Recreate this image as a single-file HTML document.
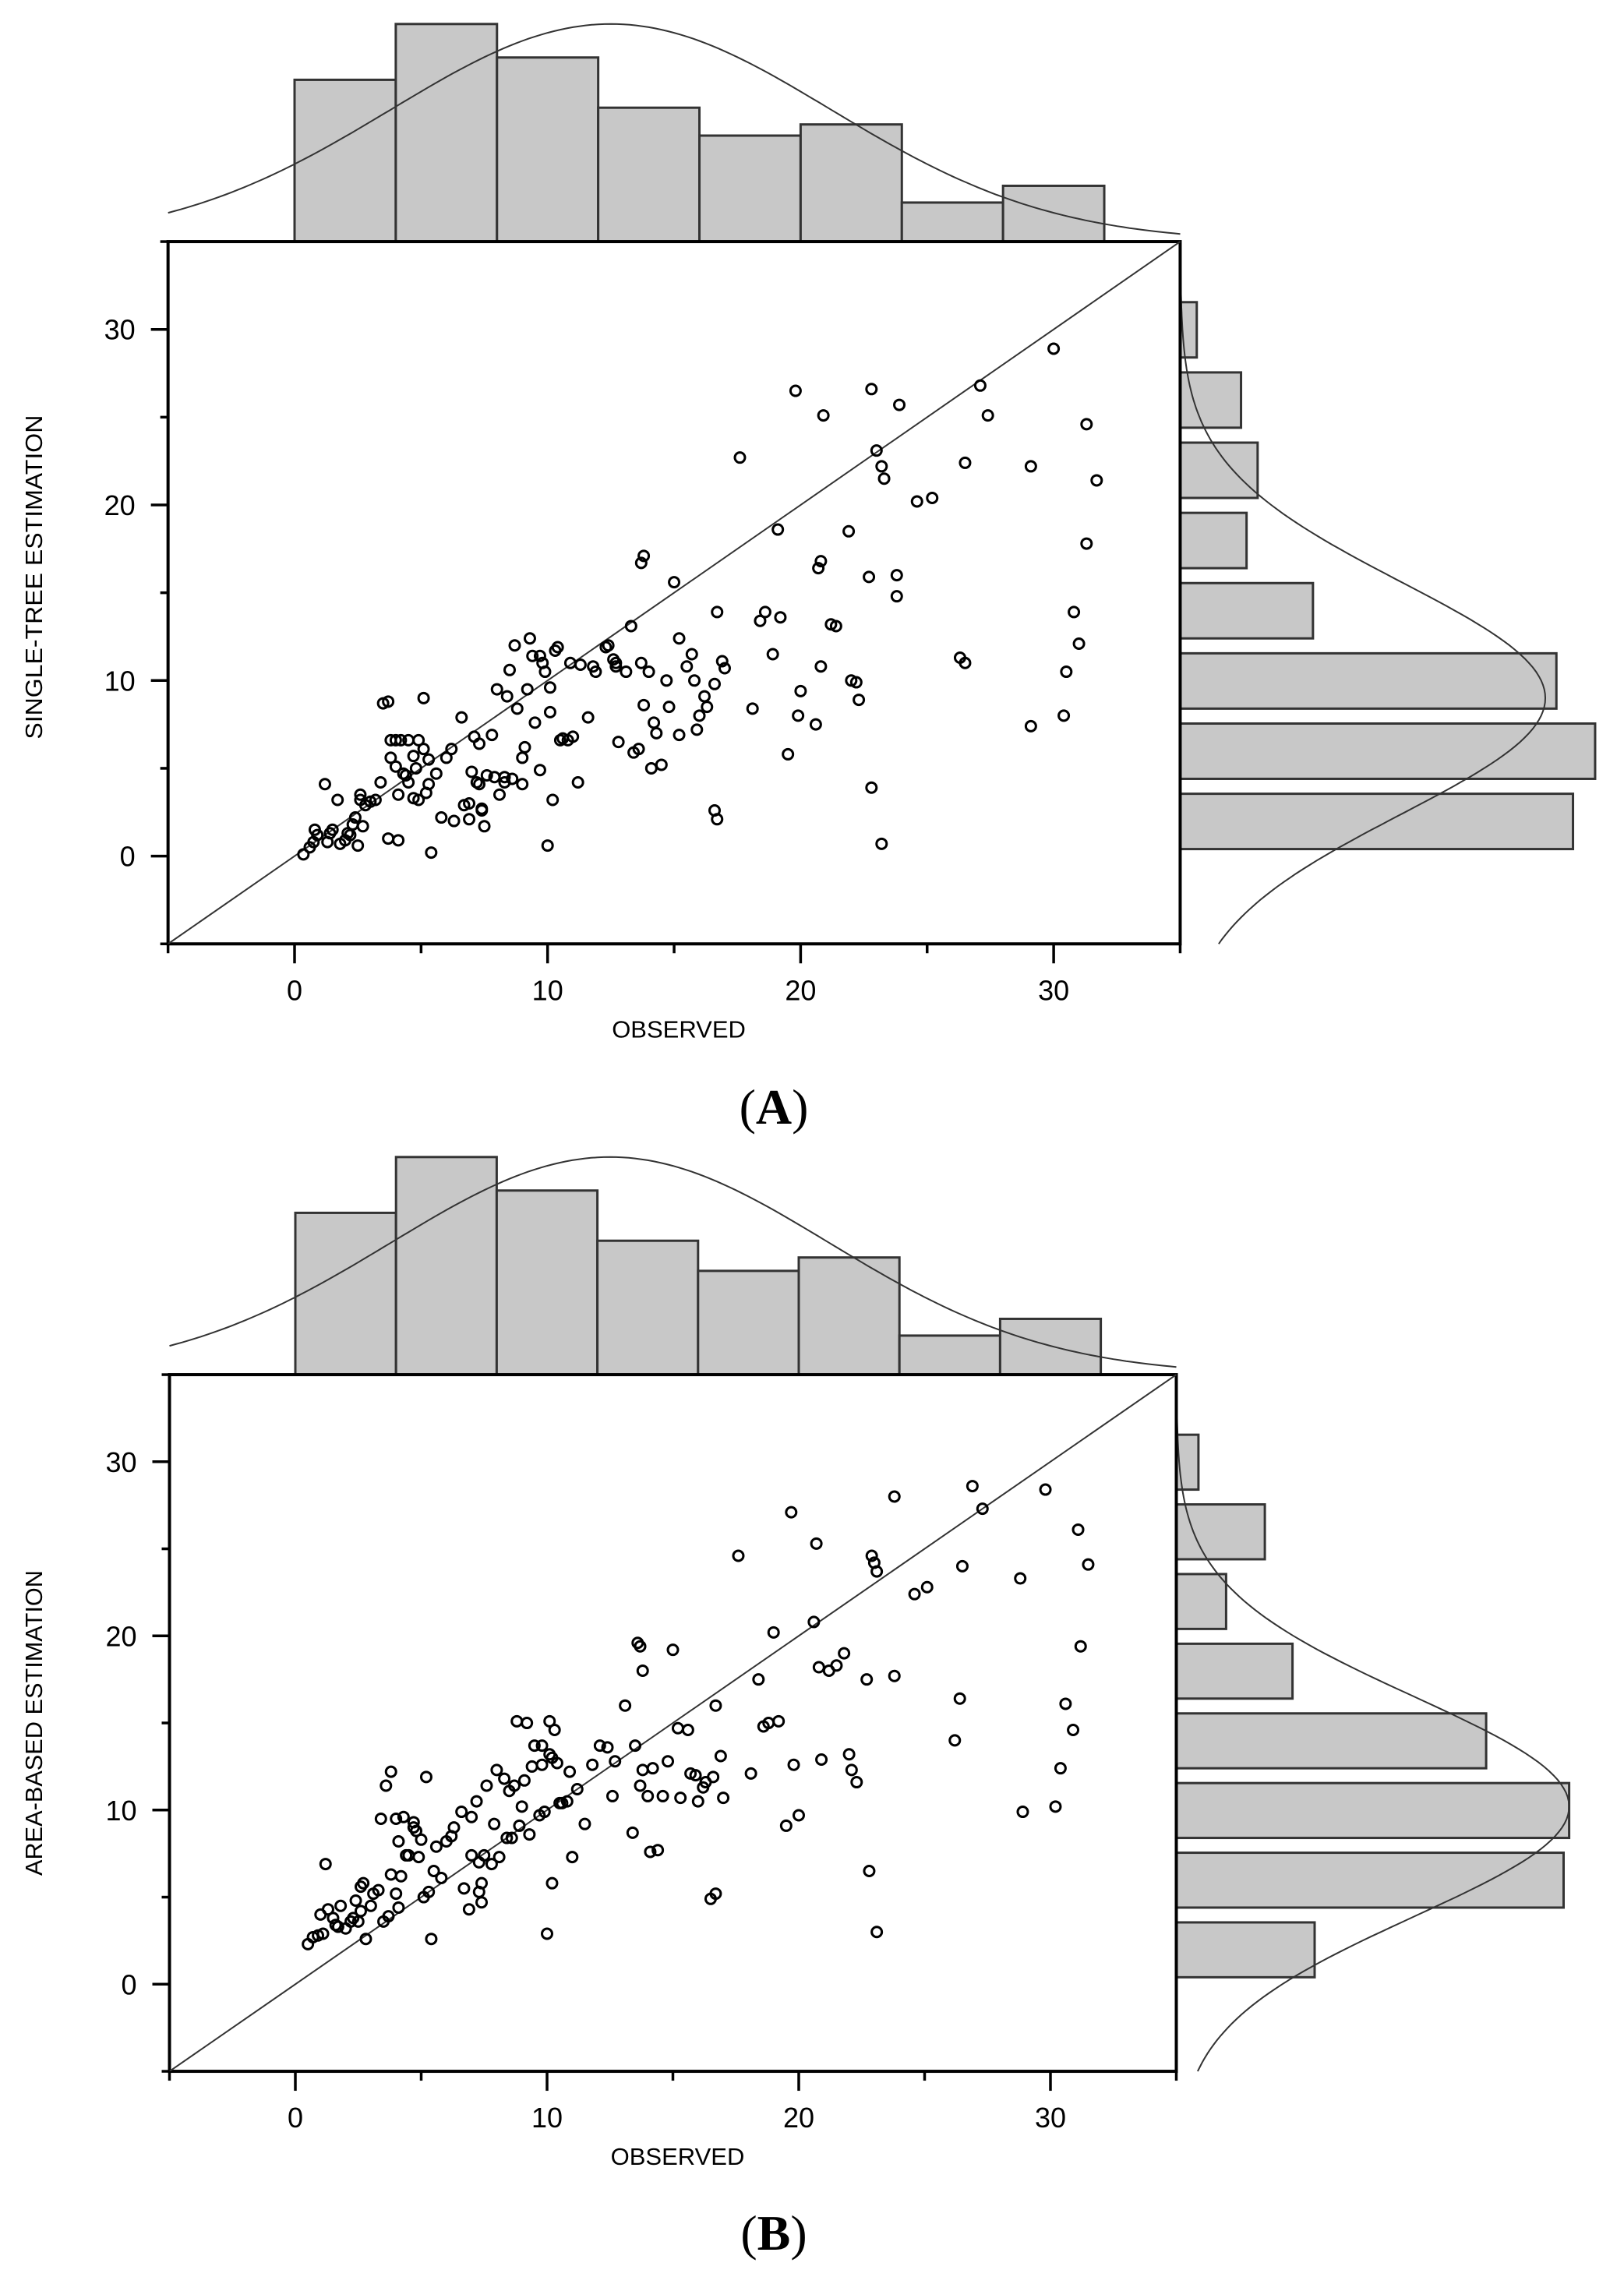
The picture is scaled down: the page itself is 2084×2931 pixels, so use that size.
<!DOCTYPE html>
<html><head><meta charset="utf-8"><style>
html,body{margin:0;padding:0;background:#fff;}
svg{display:block;}
text{font-family:"Liberation Sans",sans-serif;fill:#000;}
</style></head><body>
<svg id="fig" xmlns="http://www.w3.org/2000/svg" width="2084" height="2931" viewBox="0 0 2084 2931"></svg>
<script>
// ---- data ----
const binEdges = [0,4,8,12,16,20,24,28,32];
const topCountsA = [29,39,33,24,19,21,7,10];
const rightCountsA = [71,75,68,24,12,14,11,3];
const topCountsB = [29,39,33,24,18.6,21,7,10];
const rightCountsB = [25,70,71,56,21,9,16,4];
const xTicks = [0,10,20,30];
const yTicks = [0,10,20,30];
const curveTop = {mean:12.5, sd:8.7, peak:39};
const curveRightA = {mean:9, sd:6.6, peak:66};
const curveRightB = {mean:10.2, sd:6.3, peak:71};

const obsA = [0.35,0.6,0.75,0.8,0.9,1.2,1.3,1.4,1.5,1.7,1.8,2.0,2.1,2.2,2.3,2.4,2.5,2.6,2.6,2.7,2.8,3.0,3.2,3.4,3.5,3.7,3.7,3.8,3.8,4.0,4.0,4.1,4.1,4.2,4.3,4.4,4.5,4.5,4.7,4.7,4.8,4.9,4.9,5.1,5.1,5.2,5.3,5.3,5.4,5.6,5.8,6.0,6.2,6.3,6.6,6.7,6.9,6.9,7.0,7.1,7.2,7.3,7.3,7.4,7.4,7.5,7.6,7.8,7.9,8.0,8.1,8.3,8.3,8.4,8.5,8.6,8.7,8.8,9.0,9.0,9.1,9.2,9.3,9.4,9.5,9.7,9.7,9.8,9.9,10.0,10.1,10.1,10.2,10.3,10.4,10.5,10.6,10.8,10.9,11.0,11.2,11.3,11.6,11.8,11.9,12.3,12.4,12.6,12.7,12.7,12.8,13.1,13.3,13.4,13.6,13.7,13.7,13.8,13.8,14.0,14.1,14.2,14.3,14.5,14.7,14.8,15.0,15.2,15.2,15.5,15.7,15.8,15.9,16.0,16.2,16.3,16.6,16.6,16.7,16.7,16.9,17.0,17.6,18.1,18.4,18.6,18.9,19.1,19.2,19.5,19.8,19.9,20.0,20.6,20.7,20.8,20.8,20.9,21.2,21.4,21.9,22.0,22.2,22.3,22.7,22.8,22.8,23.0,23.2,23.2,23.3,23.8,23.8,23.9,24.6,25.2,26.3,26.5,26.5,27.1,27.4,29.1,29.1,30.0,30.4,30.5,30.8,31.0,31.3,31.3,31.7];
const estA = [0.1,0.5,0.8,1.5,1.2,4.1,0.8,1.3,1.5,3.2,0.7,0.9,1.3,1.2,1.8,2.2,0.6,3.5,3.2,1.7,2.9,3.1,3.2,4.2,8.7,1.0,8.8,6.6,5.6,6.6,5.1,0.9,3.5,6.6,4.7,4.6,4.2,6.6,5.7,3.3,5.0,6.6,3.2,6.1,9.0,3.6,5.5,4.1,0.2,4.7,2.2,5.6,6.1,2.0,7.9,2.9,2.1,3.0,4.8,6.8,4.2,4.1,6.4,2.7,2.6,1.7,4.6,6.9,4.5,9.5,3.5,4.5,4.2,9.1,10.6,4.4,12.0,8.4,5.6,4.1,6.2,9.5,12.4,11.4,7.6,4.9,11.4,11.0,10.5,0.6,8.2,9.6,3.2,11.7,11.9,6.6,6.7,6.6,11.0,6.8,4.2,10.9,7.9,10.8,10.5,11.9,12.0,11.2,11.0,10.8,6.5,10.5,13.1,5.9,6.1,16.7,11.0,17.1,8.6,10.5,5.0,7.6,7.0,5.2,10.0,8.5,15.6,12.4,6.9,10.8,11.5,10.0,7.2,8.0,9.1,8.5,2.6,9.8,2.1,13.9,11.1,10.7,22.7,8.4,13.4,13.9,11.5,18.6,13.6,5.8,26.5,8.0,9.4,7.5,16.4,16.8,10.8,25.1,13.2,13.1,18.5,10.0,9.9,8.9,15.9,3.9,26.6,23.1,0.7,22.2,21.5,14.8,16.0,25.7,20.2,20.4,11.3,11.0,22.4,26.8,25.1,22.2,7.4,28.9,8.0,10.5,13.9,12.1,17.8,24.6,21.4];

const obsB = [0.5,0.7,0.9,1.0,1.1,1.2,1.3,1.5,1.6,1.7,1.8,2.0,2.2,2.3,2.4,2.5,2.6,2.6,2.7,2.8,3.0,3.1,3.3,3.4,3.5,3.6,3.7,3.8,3.8,4.0,4.0,4.1,4.1,4.2,4.3,4.4,4.5,4.7,4.7,4.8,4.9,5.0,5.1,5.2,5.3,5.4,5.5,5.6,5.8,6.0,6.2,6.3,6.6,6.7,6.9,7.0,7.0,7.2,7.3,7.3,7.4,7.4,7.5,7.6,7.8,7.9,8.0,8.1,8.3,8.4,8.5,8.6,8.7,8.8,8.9,9.0,9.1,9.2,9.3,9.4,9.5,9.7,9.8,9.8,9.9,10.0,10.1,10.1,10.2,10.2,10.3,10.4,10.5,10.6,10.8,10.9,11.0,11.2,11.5,11.8,12.1,12.4,12.6,12.7,13.1,13.4,13.5,13.6,13.7,13.7,13.8,13.8,14.0,14.1,14.2,14.4,14.6,14.8,15.0,15.2,15.3,15.6,15.7,15.9,16.0,16.2,16.3,16.5,16.6,16.7,16.7,16.9,17.0,17.6,18.1,18.4,18.6,18.8,19.0,19.2,19.5,19.7,19.8,20.0,20.6,20.7,20.8,20.9,21.2,21.5,21.8,22.0,22.1,22.3,22.7,22.8,22.9,23.0,23.1,23.1,23.8,23.8,24.6,25.1,26.2,26.4,26.5,26.9,27.3,28.8,28.9,29.8,30.2,30.4,30.6,30.9,31.1,31.2,31.5];
const estB = [2.3,2.7,2.8,4.0,2.9,6.9,4.3,3.8,3.4,3.3,4.5,3.2,3.6,3.8,4.8,3.6,4.2,5.6,5.8,2.6,4.5,5.2,5.4,9.5,3.6,11.4,3.9,12.2,6.3,9.5,5.2,4.4,8.2,6.2,9.6,7.4,7.4,9.3,9.0,8.8,7.3,8.3,5.0,11.9,5.3,2.6,6.5,7.9,6.1,8.2,8.5,9.0,9.9,5.5,4.3,7.4,9.6,10.5,7.0,5.3,4.7,5.8,7.4,11.4,6.9,9.2,12.3,7.3,11.8,8.4,11.1,8.4,11.4,15.1,9.1,10.2,11.7,15.0,8.6,12.5,13.7,9.7,13.7,12.6,9.9,2.9,15.1,13.2,13.0,5.8,14.6,12.7,10.4,10.4,10.5,12.2,7.3,11.2,9.2,12.6,13.7,13.6,10.8,12.8,16.0,8.7,13.7,19.6,19.4,11.4,18.0,12.3,10.8,7.6,12.4,7.7,10.8,12.8,19.2,14.7,10.7,14.6,12.1,12.0,10.5,11.3,11.6,4.9,11.9,5.2,16.0,13.1,10.7,24.6,12.1,17.5,14.8,15.0,20.2,15.1,9.1,27.1,12.6,9.7,20.8,25.3,18.2,12.9,18.0,18.3,19.0,13.2,12.3,11.6,17.5,6.5,24.6,24.2,23.7,3.0,17.7,28.0,22.4,22.8,14.0,16.4,24.0,28.6,27.3,23.3,9.9,28.4,10.2,12.4,16.1,14.6,26.1,19.4,24.1];

// ---- drawing ----
const NS = 'http://www.w3.org/2000/svg';
const svg = document.getElementById('fig');
function mk(tag, attrs, parent){
  const e = document.createElementNS(NS, tag);
  for (const k in attrs) e.setAttribute(k, attrs[k]);
  (parent||svg).appendChild(e);
  return e;
}
const HPX = 7.16; // px per count (top hist)
const RPX = 7.1;  // px per count (right hist)

function panel(cfg){
  const g = mk('g', {});
  
  
  const X = v => cfg.x0 + cfg.xs * v;
  const Y = v => cfg.y0 - cfg.ys * v;
  const L = X(-5), R = X(35), T = Y(35), B = Y(-5);

  cfg.topCounts.forEach((c, i) => {
    const r = mk('rect', {x:X(binEdges[i]), y:T - c*HPX, width:X(binEdges[i+1])-X(binEdges[i]), height:c*HPX, fill:'#c8c8c8', stroke:'#333', 'stroke-width':3}, g);
    
    
  });
  cfg.rightCounts.forEach((c, i) => {
    const y1 = Y(binEdges[i+1]-0.45), y0 = Y(binEdges[i]+0.4);
    const r = mk('rect', {x:R, y:y1, width:c*RPX, height:y0-y1, fill:'#c8c8c8', stroke:'#333', 'stroke-width':3}, g);
    
    
  });
  let d = '';
  for (let v = -5; v <= 35.001; v += 0.25) {
    const h = curveTop.peak*Math.exp(-0.5*Math.pow((v-curveTop.mean)/curveTop.sd,2));
    d += (d ? 'L' : 'M') + X(v).toFixed(1) + ' ' + (T - h*HPX).toFixed(1);
  }
  const c1 = mk('path', {d:d, fill:'none', stroke:'#333', 'stroke-width':2}, g);
  
  
  d = '';
  const cr = cfg.rightCurve;
  for (let v = cfg.rcStart; v <= 35.001; v += 0.25) {
    const h = cr.peak*Math.exp(-0.5*Math.pow((v-cr.mean)/cr.sd,2));
    d += (d ? 'L' : 'M') + (R + h*RPX).toFixed(1) + ' ' + Y(v).toFixed(1);
  }
  const c2 = mk('path', {d:d, fill:'none', stroke:'#333', 'stroke-width':2}, g);
  
  

  const box = mk('rect', {x:L, y:T, width:R-L, height:B-T, fill:'#fff', stroke:'#000', 'stroke-width':4}, g);
  
  
  const ln = mk('line', {x1:X(-5), y1:Y(-5), x2:X(35), y2:Y(35), stroke:'#333', 'stroke-width':2}, g);
  
  

  for (let v = -5; v <= 35; v += 5) {
    const major = v % 10 === 0;
    const tx = mk('line', {x1:X(v), y1:B, x2:X(v), y2:B + (major?25:12), stroke:'#000', 'stroke-width':3.5}, g);
    
    
    const ty = mk('line', {x1:L, y1:Y(v), x2:L - (major?22:10), y2:Y(v), stroke:'#000', 'stroke-width':3.5}, g);
    
    
  }
  xTicks.forEach(v => {
    const t = mk('text', {x:X(v), y:B + 72, 'text-anchor':'middle', 'font-size':36}, g);
    t.textContent = v;
    
    
  });
  yTicks.forEach(v => {
    const t = mk('text', {x:L - 42, y:Y(v) + 13, 'text-anchor':'end', 'font-size':36}, g);
    t.textContent = v;
    
    
  });
  const xt = mk('text', {x:(L+R)/2 + 6, y:B + 120, 'text-anchor':'middle', 'font-size':31}, g);
  xt.textContent = 'OBSERVED';
  
  
  const yc = (T+B)/2 + cfg.ytOff;
  const yt = mk('text', {x:0, y:0, 'text-anchor':'middle', 'font-size':31, textLength:cfg.ytLen, lengthAdjust:'spacingAndGlyphs', transform:'translate(54,'+yc+') rotate(-90)'}, g);
  yt.textContent = cfg.ytitle;
  
  

  cfg.obs.forEach((o, i) => {
    const p = mk('circle', {cx:X(o), cy:Y(cfg.est[i]), r:6.5, fill:'none', stroke:'#000', 'stroke-width':3}, g);
    
    
  });

  const lab = mk('text', {x:993, y:cfg.labY, 'text-anchor':'middle', 'font-size':64, style:'font-family:"Liberation Serif",serif'}, g);
  lab.innerHTML = '(<tspan font-weight="bold">' + cfg.label + '</tspan>)';
  
  
}

panel({name:'panel-a', x0:378, xs:32.47, y0:1098.6, ys:22.53, topCounts:topCountsA, rightCounts:rightCountsA,
  rightCurve:curveRightA, rcStart:-5, obs:obsA, est:estA, ytitle:'SINGLE-TREE ESTIMATION', ytLen:416, ytOff:-20, labY:1442, label:'A'});
panel({name:'panel-b', x0:379, xs:32.3, y0:2546.3, ys:22.35, topCounts:topCountsB, rightCounts:rightCountsB,
  rightCurve:curveRightB, rcStart:-5, obs:obsB, est:estB, ytitle:'AREA-BASED ESTIMATION', ytLen:392, ytOff:0, labY:2887, label:'B'});
</script>
</body></html>
